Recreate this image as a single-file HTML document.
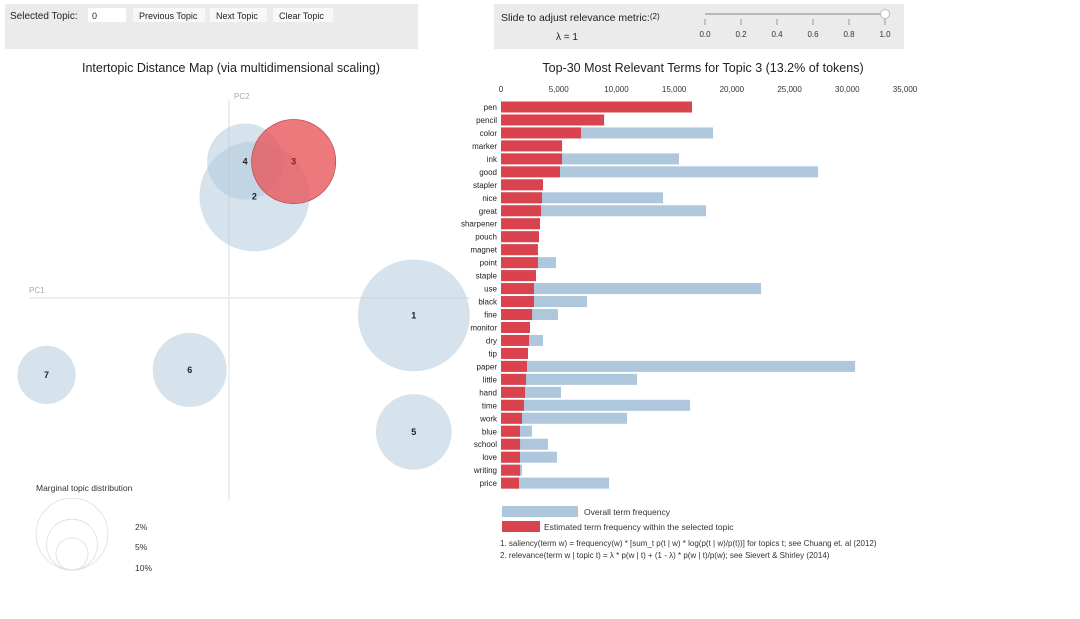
<!DOCTYPE html>
<html><head><meta charset="utf-8"><style>
body{margin:0;background:#fff;font-family:"Liberation Sans",Arial,sans-serif;}
svg text{font-family:"Liberation Sans",Arial,sans-serif;}
</style></head><body>
<svg id="c" width="1080" height="614" xmlns="http://www.w3.org/2000/svg">
<rect x="5" y="4" width="413" height="45" fill="#ebebeb"/>
<text x="10" y="19" font-size="10" fill="#222">Selected Topic:</text>
<rect x="88" y="8" width="38" height="14" fill="#fff"/>
<text x="92" y="19" font-size="9" fill="#222">0</text>
<rect x="133" y="8" width="72" height="14" fill="#f8f8f8"/>
<text x="139" y="19" font-size="9" fill="#222">Previous Topic</text>
<rect x="210" y="8" width="57" height="14" fill="#f8f8f8"/>
<text x="216" y="19" font-size="9" fill="#222">Next Topic</text>
<rect x="273" y="8" width="60" height="14" fill="#f8f8f8"/>
<text x="279" y="19" font-size="9" fill="#222">Clear Topic</text>
<rect x="494" y="4" width="410" height="45" fill="#ebebeb"/>
<text x="501" y="21" font-size="10.5" fill="#222">Slide to adjust relevance metric:<tspan font-size="8" dy="-2">(2)</tspan></text>
<text x="556" y="40" font-size="10" fill="#222">λ = 1</text>
<g id="slider"></g>
<text x="231" y="72" font-size="12.5" text-anchor="middle" fill="#222">Intertopic Distance Map (via multidimensional scaling)</text>
<text x="703" y="72" font-size="12.5" text-anchor="middle" fill="#222">Top-30 Most Relevant Terms for Topic 3 (13.2% of tokens)</text>
<line x1="30" y1="298" x2="470" y2="298" stroke="#eee" stroke-width="2"/>
<line x1="229" y1="100" x2="229" y2="500" stroke="#eee" stroke-width="2"/>
<text x="29" y="293" font-size="8" fill="#aaa">PC1</text>
<text x="234" y="99" font-size="8" fill="#aaa">PC2</text>
<g id="topics"></g>
<text x="36" y="491" font-size="8.5" fill="#333">Marginal topic distribution</text>
<g id="marg"></g>
<g id="bars"></g>
<rect x="502" y="506" width="76" height="11" fill="#aec7dc"/>
<text x="584" y="515" font-size="8.5" fill="#333">Overall term frequency</text>
<rect x="502" y="521" width="38" height="11" fill="#d9434e"/>
<text x="544" y="530" font-size="8.5" fill="#333">Estimated term frequency within the selected topic</text>
<text x="500" y="546" font-size="8" fill="#333">1. saliency(term w) = frequency(w) * [sum_t p(t | w) * log(p(t | w)/p(t))] for topics t; see Chuang et. al (2012)</text>
<text x="500" y="558" font-size="8" fill="#333">2. relevance(term w | topic t) = λ * p(w | t) + (1 - λ) * p(w | t)/p(w); see Sievert &amp; Shirley (2014)</text>
</svg>
<script>
const NS="http://www.w3.org/2000/svg";
const terms=["pen","pencil","color","marker","ink","good","stapler","nice","great","sharpener","pouch","magnet","point","staple","use","black","fine","monitor","dry","tip","paper","little","hand","time","work","blue","school","love","writing","price"];
const overallFreq=[16550,8930,18370,5290,15420,27470,3640,14040,17760,3380,3290,3200,4770,3030,22530,7450,4940,2510,3640,2340,30680,11790,5200,16380,10920,2690,4070,4850,1820,9360];
const topicFreq=[16550,8930,6930,5290,5290,5110,3640,3550,3470,3380,3290,3200,3200,3030,2860,2860,2690,2510,2430,2340,2250,2170,2080,1990,1820,1650,1650,1650,1650,1560];
const xTicks=[0,5000,10000,15000,20000,25000,30000,35000];
const topicIds=[1,2,3,4,5,6,7];
const topicX=[0.80,0.11,0.28,0.07,0.80,-0.17,-0.79];
const topicY=[-0.07,0.41,0.55,0.55,-0.54,-0.29,-0.31];
const topicShare=[15.5,15.0,8.8,7.2,7.1,6.8,4.2];
const sliderTicks=[0,0.2,0.4,0.6,0.8,1.0];
const lambdaVal=1;
function el(t,a,p){const e=document.createElementNS(NS,t);for(const k in a)e.setAttribute(k,a[k]);p.appendChild(e);return e;}
const x=v=>501+v*(404/35000);
const rowY=i=>101+i*12.97;
const bars=document.getElementById('bars');
xTicks.forEach(v=>{const t=el('text',{x:x(v),y:92,'font-size':8,'text-anchor':'middle',fill:'#333'},bars);t.textContent=v.toLocaleString('en-US');

});
terms.forEach((w,i)=>{
 const b=el('rect',{x:501,y:rowY(i)+0.5,width:x(overallFreq[i])-501,height:11,fill:'#aec7dc'},bars);
 
 
 const r=el('rect',{x:501,y:rowY(i)+0.5,width:x(topicFreq[i])-501,height:11,fill:'#d9434e'},bars);
 
 
 const t=el('text',{x:497,y:rowY(i)+9,'font-size':8,'text-anchor':'end',fill:'#222'},bars);t.textContent=w;
 
 
});
const tg=document.getElementById('topics');
const mx=v=>229+v*231, my=v=>298-v*248;
const rr=s=>Math.sqrt(s)*14.2;
const order=[0,1,3,4,5,6,2];
order.forEach(i=>{const sel=topicIds[i]===3;
 const c=el('circle',{cx:mx(topicX[i]),cy:my(topicY[i]),r:rr(topicShare[i]),fill:sel?'#e8585c':'#aec7dc','fill-opacity':sel?0.8:0.5,stroke:sel?'#b04040':'none','stroke-width':0.6},tg);
 
 });
topicIds.forEach((id,i)=>{const t=el('text',{x:mx(topicX[i]),y:my(topicY[i])+3,'font-size':9,'font-weight':'bold','text-anchor':'middle',fill:id===3?'#8a1c1c':'#222'},tg);t.textContent=id;
 
 });
const mg=document.getElementById('marg');
[[2,'2%',530],[5,'5%',550],[10,'10%',571]].forEach(([s,l,ty])=>{const r=rr(s)*0.8;
 const c=el('circle',{cx:72,cy:570-r,r:r,fill:'none',stroke:'#ddd','stroke-width':0.8},mg);
 
 
 const t=el('text',{x:135,y:ty,'font-size':8.5,fill:'#333'},mg);t.textContent=l;
 
 });
const sg=document.getElementById('slider');
const sx=v=>705+v*180;
el('line',{x1:sx(0),y1:14,x2:sx(1),y2:14,stroke:'#999','stroke-width':1.2},sg);
sliderTicks.forEach(v=>{el('line',{x1:sx(v),y1:19,x2:sx(v),y2:25,stroke:'#999'},sg);
 const t=el('text',{x:sx(v),y:37,'font-size':8,'text-anchor':'middle',fill:'#333'},sg);t.textContent=v.toFixed(1);
 
 });
const h=el('circle',{cx:sx(lambdaVal),cy:14,r:4.5,fill:'#fff',stroke:'#bbb'},sg);


</script>
</body></html>
